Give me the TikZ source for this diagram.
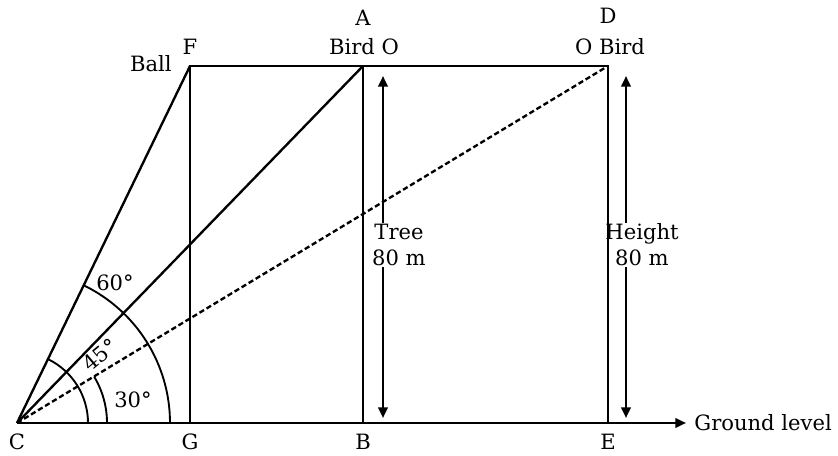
\documentclass[tikz,border=0pt]{standalone}
\usepackage{fontspec}
\setmainfont{DejaVu Serif}
\usetikzlibrary{arrows.meta}
\begin{document}
\begin{tikzpicture}[x=0.03cm, y=0.03cm,
    line/.style={line width=2pt},
    dline/.style={line width=2pt, dash pattern=on 4.5pt off 2.5pt},
    arr/.style={line width=2pt, -{Triangle[length=9pt, width=8pt]}},
    angl/.style={line width=1.6pt},
    lab/.style={font=\fontsize{18}{22}\selectfont, inner sep=1pt, align=center}]
    \useasboundingbox (0,0) rectangle (838,456);
    % ground and top points
    \coordinate (C) at (17,33);
    \coordinate (G) at (190,33);
    \coordinate (B) at (363,33);
    \coordinate (E) at (608,33);
    \coordinate (gnd) at (686,33);
    \coordinate (F) at (190,390);
    \coordinate (A) at (363,390);
    \coordinate (D) at (608,390);
    % labels
    \node[lab] (lC) at (17,14) {C};
    \node[lab] (lG) at (190,14) {G};
    \node[lab] (lB) at (363,14) {B};
    \node[lab] (lE) at (608,14) {E};
    \node[lab, anchor=west] (lgnd) at (693,33) {Ground level};
    \node[lab] (lF) at (190,409) {F};
    \node[lab, anchor=east] (ball) at (173,392) {Ball};
    \node[lab] (lA) at (363,438) {A};
    \node[lab] (birdA) at (364,409) {Bird O};
    \node[lab] (lD) at (608,440) {D};
    \node[lab] (birdD) at (610,409) {O Bird};
    \node[lab] (tree) at (399,211) {Tree\\80 m};
    \node[lab] (height) at (642,211) {Height\\80 m};
    \node[lab] (a60) at (115,173) {60°};
    \node[lab, rotate=40] (a45) at (100,101) {45°};
    \node[lab] (a30) at (133,56) {30°};
    % frame
    \draw[line] (G) -- (F) -- (D) -- (E);
    \draw[line] (A) -- (B);
    \draw[line] (C) -- (F);
    \draw[line] (C) -- (A);
    \draw[dline] (C) -- (D);
    \draw[arr] (C) -- (gnd);
    % heights
    \draw[arr] (tree.north -| 383,0) -- (383,380);
    \draw[arr] (tree.south -| 383,0) -- (383,38);
    \draw[arr] (height.north -| 626,0) -- (626,380);
    \draw[arr] (height.south -| 626,0) -- (626,38);
    % angles
    \draw[angl] (C) ++(0:71) arc[start angle=0, end angle=64.1, radius=71];
    \draw[angl] (C) ++(0:90) arc[start angle=0, end angle=31.1, radius=90];
    \draw[angl] (C) ++(0:153) arc[start angle=0, end angle=64.1, radius=153];
\end{tikzpicture}
\end{document}
